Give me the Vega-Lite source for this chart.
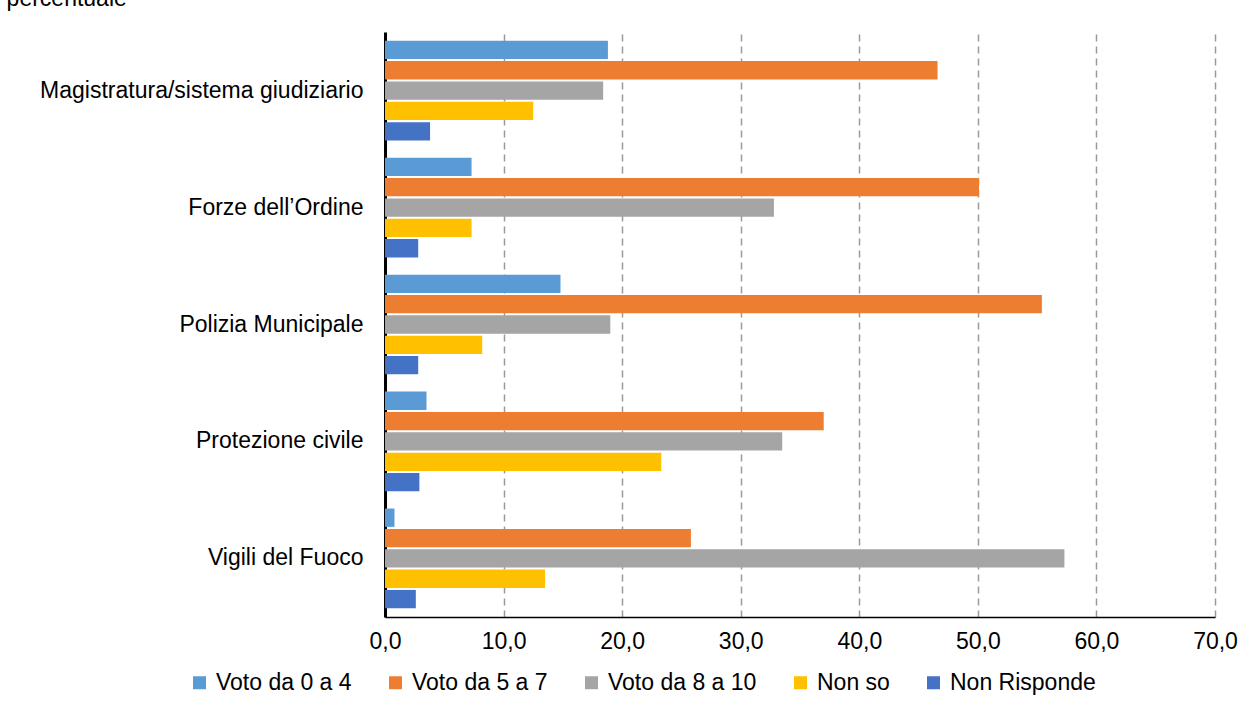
{
  "$schema": "https://vega.github.io/schema/vega-lite/v6.json",
  "width": 830,
  "height": 585,
  "autosize": {"type": "none"},
  "padding": {"left": 385, "top": 32, "right": 37, "bottom": 89},
  "background": "white",
  "title": {"text": "percentuale", "anchor": "start", "frame": "bounds", "font": "Liberation Sans", "fontSize": 23, "fontWeight": "normal", "color": "#000000", "baseline": "bottom", "offset": 4, "dx": -33, "dy": 6},
  "data": {"values": [
    {"ente": "Magistratura/sistema giudiziario", "serie": "Voto da 0 a 4", "valore": 18.8},
    {"ente": "Magistratura/sistema giudiziario", "serie": "Voto da 5 a 7", "valore": 46.6},
    {"ente": "Magistratura/sistema giudiziario", "serie": "Voto da 8 a 10", "valore": 18.4},
    {"ente": "Magistratura/sistema giudiziario", "serie": "Non so", "valore": 12.5},
    {"ente": "Magistratura/sistema giudiziario", "serie": "Non Risponde", "valore": 3.8},
    {"ente": "Forze dell’Ordine", "serie": "Voto da 0 a 4", "valore": 7.3},
    {"ente": "Forze dell’Ordine", "serie": "Voto da 5 a 7", "valore": 50.1},
    {"ente": "Forze dell’Ordine", "serie": "Voto da 8 a 10", "valore": 32.8},
    {"ente": "Forze dell’Ordine", "serie": "Non so", "valore": 7.3},
    {"ente": "Forze dell’Ordine", "serie": "Non Risponde", "valore": 2.8},
    {"ente": "Polizia Municipale", "serie": "Voto da 0 a 4", "valore": 14.8},
    {"ente": "Polizia Municipale", "serie": "Voto da 5 a 7", "valore": 55.4},
    {"ente": "Polizia Municipale", "serie": "Voto da 8 a 10", "valore": 19.0},
    {"ente": "Polizia Municipale", "serie": "Non so", "valore": 8.2},
    {"ente": "Polizia Municipale", "serie": "Non Risponde", "valore": 2.8},
    {"ente": "Protezione civile", "serie": "Voto da 0 a 4", "valore": 3.5},
    {"ente": "Protezione civile", "serie": "Voto da 5 a 7", "valore": 37.0},
    {"ente": "Protezione civile", "serie": "Voto da 8 a 10", "valore": 33.5},
    {"ente": "Protezione civile", "serie": "Non so", "valore": 23.3},
    {"ente": "Protezione civile", "serie": "Non Risponde", "valore": 2.9},
    {"ente": "Vigili del Fuoco", "serie": "Voto da 0 a 4", "valore": 0.8},
    {"ente": "Vigili del Fuoco", "serie": "Voto da 5 a 7", "valore": 25.8},
    {"ente": "Vigili del Fuoco", "serie": "Voto da 8 a 10", "valore": 57.3},
    {"ente": "Vigili del Fuoco", "serie": "Non so", "valore": 13.5},
    {"ente": "Vigili del Fuoco", "serie": "Non Risponde", "valore": 2.6}
  ]},
  "mark": {"type": "bar"},
  "encoding": {
    "y": {
      "field": "ente", "type": "nominal",
      "sort": ["Magistratura/sistema giudiziario", "Forze dell’Ordine", "Polizia Municipale", "Protezione civile", "Vigili del Fuoco"],
      "scale": {"paddingInner": 0.13, "paddingOuter": 0.066},
      "axis": {"title": null, "ticks": false, "domainColor": "#000000", "domainWidth": 3, "labelFont": "Liberation Sans", "labelFontSize": 23, "labelColor": "#000000", "labelPadding": 22, "labelLimit": 500, "grid": false}
    },
    "yOffset": {
      "field": "serie", "type": "nominal",
      "sort": ["Voto da 0 a 4", "Voto da 5 a 7", "Voto da 8 a 10", "Non so", "Non Risponde"],
      "scale": {"paddingInner": 0.1, "paddingOuter": 0.05}
    },
    "x": {
      "field": "valore", "type": "quantitative",
      "scale": {"domain": [0, 70], "nice": false},
      "axis": {"title": null, "values": [0, 10, 20, 30, 40, 50, 60, 70], "labelExpr": "replace(format(datum.value, '.1f'), '.', ',')", "labelFlush": false, "ticks": false, "domainColor": "#000000", "domainWidth": 1.5, "labelFont": "Liberation Sans", "labelFontSize": 23, "labelColor": "#000000", "labelPadding": 13, "grid": true, "gridColor": "#9a9a9a", "gridWidth": 1.5, "gridDash": [7, 5]}
    },
    "color": {
      "field": "serie", "type": "nominal",
      "sort": ["Voto da 0 a 4", "Voto da 5 a 7", "Voto da 8 a 10", "Non so", "Non Risponde"],
      "scale": {"domain": ["Voto da 0 a 4", "Voto da 5 a 7", "Voto da 8 a 10", "Non so", "Non Risponde"], "range": ["#5B9BD5", "#ED7D31", "#A5A5A5", "#FFC000", "#4472C4"]},
      "legend": {"title": null, "orient": "none", "direction": "horizontal", "legendX": -197, "legendY": 639, "symbolType": "square", "symbolSize": 169, "symbolStrokeWidth": 0, "labelFont": "Liberation Sans", "labelFontSize": 23, "labelColor": "#000000", "columnPadding": 32, "labelOffset": 5, "labelLimit": 400}
    }
  },
  "config": {"view": {"stroke": null}}
}
